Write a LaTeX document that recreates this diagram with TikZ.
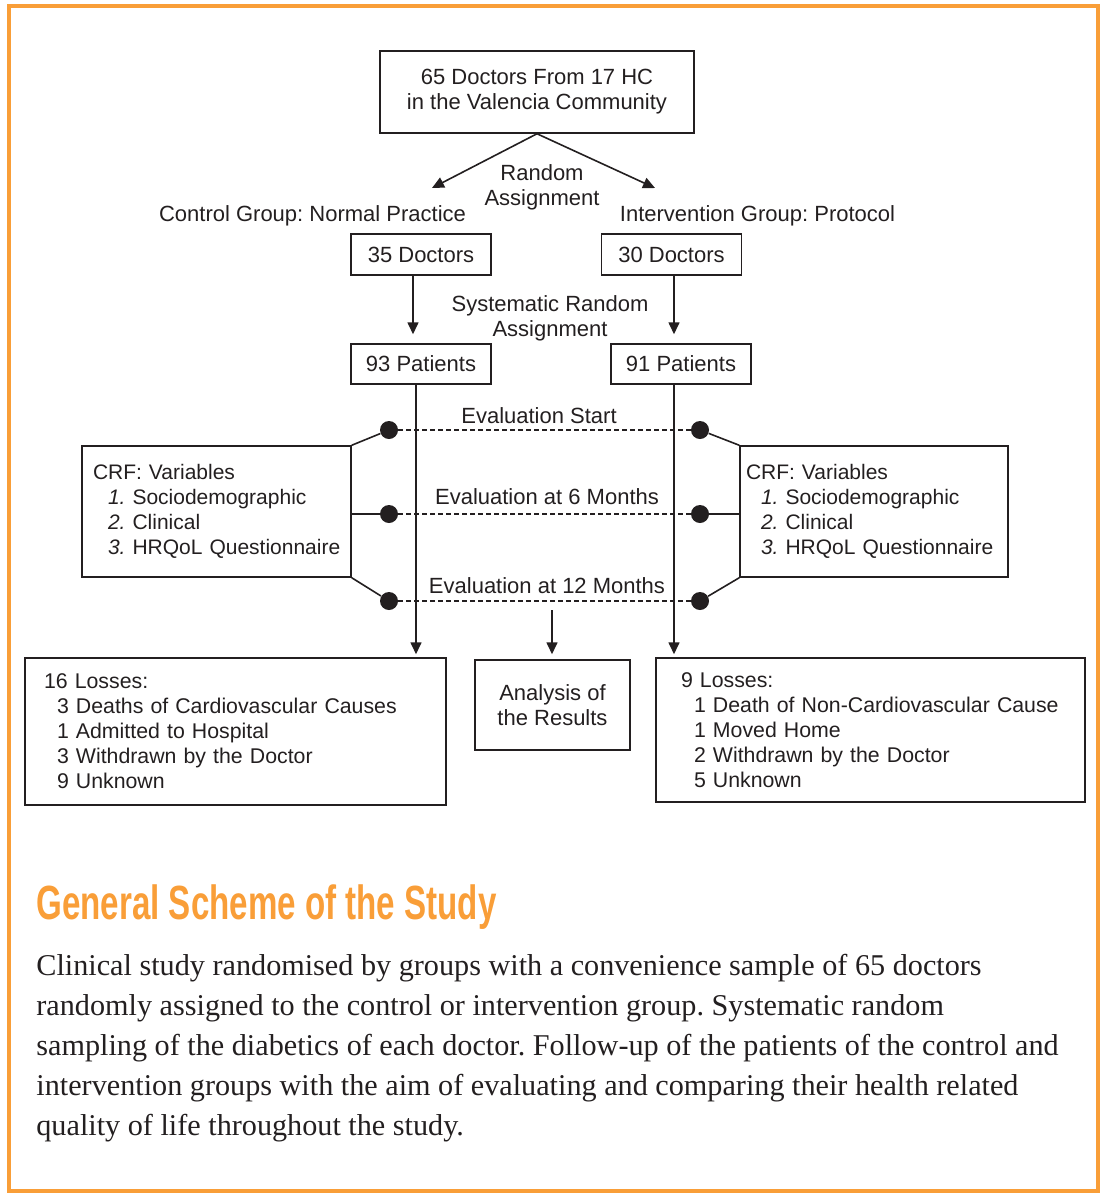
\documentclass[tikz,border=0pt]{standalone}
\usepackage{fontspec}
\setmainfont{Liberation Sans}
\newfontfamily\bodyfont{Liberation Serif}
\newfontfamily\titlefont[FakeStretch=0.69]{Liberation Sans}
\usepackage{xcolor}
\usetikzlibrary{arrows.meta}
\definecolor{schemeorange}{RGB}{249,158,56}
\definecolor{inkgray}{RGB}{35,31,32}
\frenchspacing

\tikzset{
  box/.style={draw, line width=0.75pt, inner sep=0pt, align=center},
  listbox/.style={draw, line width=0.75pt, inner ysep=0pt, align=left},
  dot/.style={circle, fill=inkgray, inner sep=0pt, minimum size=9pt},
  link/.style={line width=0.8pt},
  arr/.style={link, -{Triangle[length=6pt,width=5.5pt]}},
  evalline/.style={line width=0.6pt, dash pattern=on 2.5pt off 1.5pt},
}

\begin{document}
\begin{tikzpicture}[x=0.5pt,y=-0.5pt,color=inkgray,font=\fontsize{11}{12.5}\selectfont]
  \useasboundingbox (0,0) rectangle (1106,1200);
  \draw[schemeorange, line width=2pt] (9,6) rectangle (1098,1191);

  % doctors
  \node[box, minimum width=157pt, minimum height=41pt] (hc) at (537,92) {65 Doctors From 17 HC\\in the Valencia Community};
  \node[align=center] (rand) at (542,187) {Random\\Assignment};
  \coordinate (ctl) at (432,188);
  \coordinate (itv) at (655,188);
  \node (ctltxt) at (312.5,216) {Control Group: Normal Practice};
  \node (itvtxt) at (757.5,216) {Intervention Group: Protocol};
  \node[box, minimum width=70pt, minimum height=20.5pt] (d35) at (421,254.5) {35 Doctors};
  \node[box, minimum width=70pt, minimum height=20.5pt] (d30) at (671.5,254.5) {30 Doctors};
  \draw[arr] (hc.south) -- (ctl);
  \draw[arr] (hc.south) -- (itv);

  % patients
  \node[align=center] (sysrand) at (550,318) {Systematic Random\\Assignment};
  \node[box, minimum width=70pt, minimum height=20pt] (p93) at (421,364) {93 Patients};
  \node[box, minimum width=70pt, minimum height=20pt] (p91) at (681,364) {91 Patients};
  \draw[arr, shorten >=4.5pt] ([xshift=-4pt]d35.south) -- ([xshift=-4pt]d35.south |- p93.north);
  \draw[arr, shorten >=4.5pt] ([xshift=1.25pt]d30.south) -- ([xshift=1.25pt]d30.south |- p91.north);

  % variables
  \node[listbox, inner xsep=5.5pt, text width=123.5pt, minimum height=65.5pt, font=\fontsize{10.5}{12.5}\selectfont] (crfL) at (216.5,511.5)
    {CRF: Variables\\
     \hspace*{7.5pt}\textit{1.} Sociodemographic\\
     \hspace*{7.5pt}\textit{2.} Clinical\\
     \hspace*{7.5pt}\mbox{\textit{3.} HRQoL Questionnaire}};
  \node[listbox, inner xsep=3pt, text width=128pt, minimum height=65.5pt, font=\fontsize{10.5}{12.5}\selectfont] (crfR) at (874,511.5)
    {CRF: Variables\\
     \hspace*{7.5pt}\textit{1.} Sociodemographic\\
     \hspace*{7.5pt}\textit{2.} Clinical\\
     \hspace*{7.5pt}\mbox{\textit{3.} HRQoL Questionnaire}};

  % losses and analysis
  \node[listbox, inner xsep=9.5pt, text width=191.5pt, minimum height=73.5pt, font=\fontsize{10.65}{12.5}\selectfont] (lossL) at (235.5,731.5)
    {16 Losses:\\
     \hspace*{6.5pt}3 Deaths of Cardiovascular Causes\\
     \hspace*{6.5pt}1 Admitted to Hospital\\
     \hspace*{6.5pt}3 Withdrawn by the Doctor\\
     \hspace*{6.5pt}9 Unknown};
  \node[listbox, inner xsep=12.5pt, text width=189.5pt, minimum height=72pt, font=\fontsize{10.65}{12.5}\selectfont] (lossR) at (870.5,730)
    {9 Losses:\\
     \hspace*{6.5pt}\mbox{1 Death of Non-Cardiovascular Cause}\\
     \hspace*{6.5pt}1 Moved Home\\
     \hspace*{6.5pt}2 Withdrawn by the Doctor\\
     \hspace*{6.5pt}5 Unknown};
  \node[box, minimum width=77.5pt, minimum height=45pt] (res) at (552.5,705) {Analysis of\\the Results};

  \draw[arr, shorten >=1.5pt] ([xshift=-2.5pt]p93.south) -- ([xshift=-2.5pt]p93.south |- lossL.north);
  \draw[arr, shorten >=1.5pt] ([xshift=-3.5pt]p91.south) -- ([xshift=-3.5pt]p91.south |- lossR.north);

  % evaluations
  \foreach \n/\y in {start/430, six/514, twelve/601} {
    \node[dot] (l\n) at (389,\y) {};
    \node[dot] (r\n) at (700,\y) {};
    \draw[evalline] (l\n) -- (r\n);
  }
  \node (evstart) at (539,416) {Evaluation Start};
  \node (evsix) at (547,497) {Evaluation at 6 Months};
  \node (evtwelve) at (547,586) {Evaluation at 12 Months};
  \draw[link] (crfL.north east) -- (lstart);
  \draw[link] (crfL.east |- lsix) -- (lsix);
  \draw[link] (crfL.south east) -- (ltwelve);
  \draw[link] (crfR.north west) -- (rstart);
  \draw[link] (crfR.west |- rsix) -- (rsix);
  \draw[link] (crfR.south west) -- (rtwelve);
  \coordinate (an) at (552,610);
  \draw[arr, shorten >=2.5pt] (an) -- (an |- res.north);

  % caption
  \node[anchor=base west, inner sep=0pt, text=schemeorange, font=\titlefont\bfseries\fontsize{24}{28}\selectfont] (title) at (36,919) {General Scheme of the Study};
  \node[anchor=base west, inner sep=0pt, align=left, font=\bodyfont\fontsize{15.1}{20}\selectfont] (desc) at (36,1135)
    {Clinical study randomised by groups with a convenience sample of 65 doctors\\
     randomly assigned to the control or intervention group. Systematic random\\
     sampling of the diabetics of each doctor. Follow-up of the patients of the control and\\
     intervention groups with the aim of evaluating and comparing their health related\\
     quality of life throughout the study.};
\end{tikzpicture}
\end{document}
